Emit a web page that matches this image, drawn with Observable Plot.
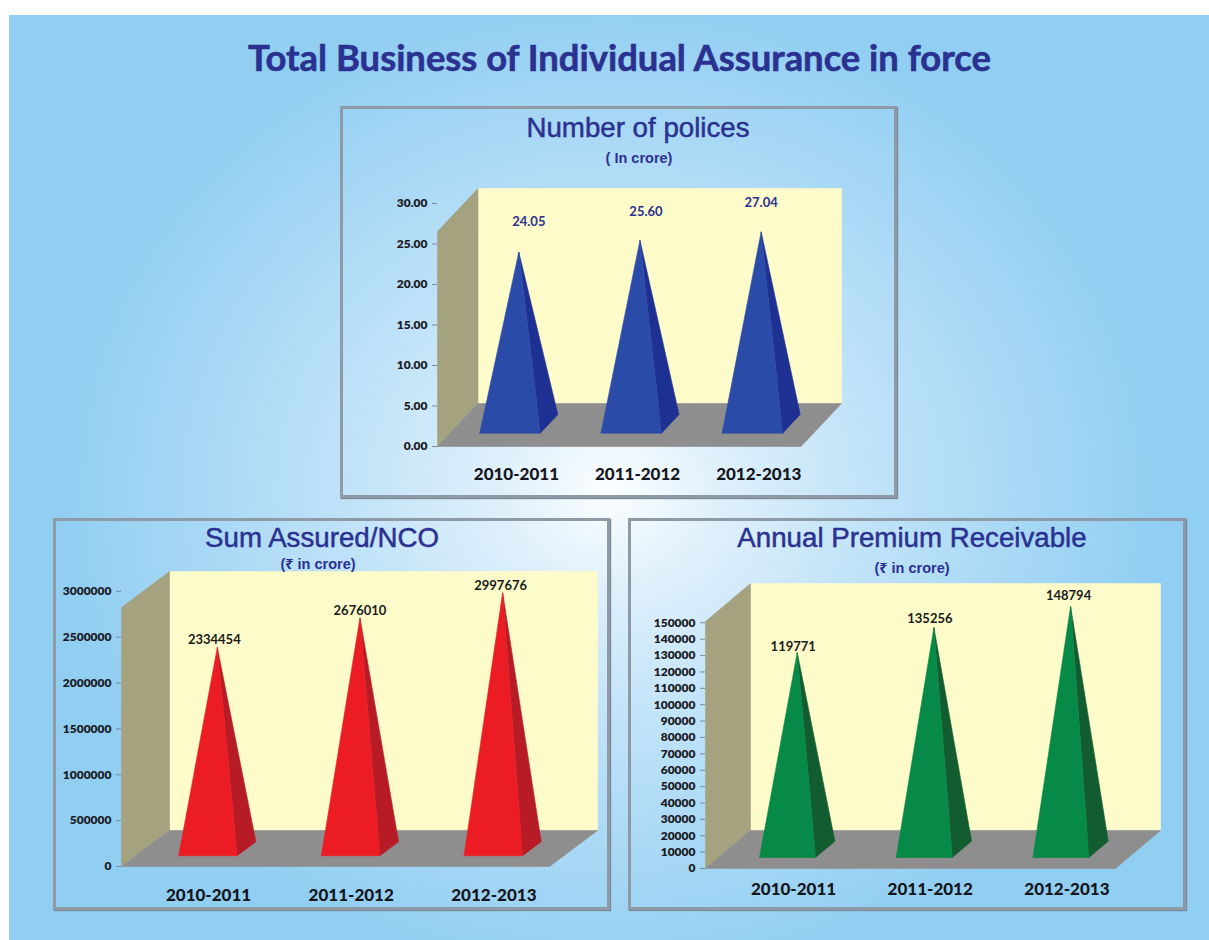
<!DOCTYPE html>
<html>
<head>
<meta charset="utf-8">
<script src="https://cdn.jsdelivr.net/npm/d3@7"></script>
<script src="https://cdn.jsdelivr.net/npm/@observablehq/plot@0.6"></script>
<style>
html,body{margin:0;padding:0;background:#fff;width:1209px;height:940px;overflow:hidden;font-family:Lato,"Noto Sans","DejaVu Sans",sans-serif}
#bg{position:absolute;left:9px;top:15px;width:1200px;height:925px;background:radial-gradient(ellipse 560px 500px at 601px 475px,#fbfeff 0,#dff0fb 110px,#bfe2f8 270px,#a8d8f5 410px,#90cef2 100%)}
#title{position:absolute;left:0;top:35px;width:1239px;text-align:center;font:700 36.4px Lato,sans-serif;color:#2b3191;-webkit-text-stroke:.6px #2b3191}
.frame{position:absolute;box-sizing:border-box;border:3px solid #8e9aa6;box-shadow:1px 1px 1px #7a8a96}
.ptitle{position:absolute;font:400 27.7px "Liberation Sans",Arial,sans-serif;color:#2b3191;text-align:center;transform:translateX(-50%);white-space:nowrap;-webkit-text-stroke:.5px #2b3191}
.psub{position:absolute;font:700 14.5px "Liberation Sans","Noto Sans","DejaVu Sans",sans-serif;color:#2b3191;text-align:center;transform:translateX(-50%);white-space:nowrap}
svg{position:absolute}
svg text{-webkit-text-stroke:.25px currentColor}
</style>
</head>
<body>
<div id="bg"></div>
<div id="title">Total Business of Individual Assurance in force</div>
<div id="root"></div>
<script>
const categories = ["2010-2011", "2011-2012", "2012-2013"];

const policiesLabels = [24.05, 25.60, 27.04];
const policiesApex = [24.0, 25.45, 26.5];
const policiesTicks = [0, 5, 10, 15, 20, 25, 30];

const sumAssuredLabels = [2334454, 2676010, 2997676];
const sumAssuredApex = [2388000, 2711000, 2984000];
const sumAssuredTicks = [0, 500000, 1000000, 1500000, 2000000, 2500000, 3000000];

const premiumLabels = [119771, 135256, 148794];
const premiumApex = [131900, 147100, 160000];
const premiumTicks = [0, 10000, 20000, 30000, 40000, 50000, 60000, 70000, 80000, 90000, 100000, 110000, 120000, 130000, 140000, 150000];

const charts = [
  {title: "Number of polices", sub: "( In crore)", titleX: 638, titleY: 112, subX: 639, subY: 150,
   box: [340, 106, 557, 392], margins: [82, 56, 52, 97],
   yTop: 31.85, depthX: 0.334, depthY: 5.31, center: 0.495, width: 0.5, df: 0.31, db: 0.744,
   labels: policiesLabels, apex: policiesApex, ticks: policiesTicks, fmt: d => d.toFixed(2), labelFmt: d => d.toFixed(2),
   labelColor: "#2b3191", labelDx: [10, 6, 0], labelDy: [-30, -29, -29],
   catOffset: 0.651, catPad: 21,
   front: "#2a4ca8", side: "#1f3093"},
  {title: "Sum Assured/NCO", sub: "(₹ in crore)", titleX: 322, titleY: 522, subX: 318, subY: 553,
   box: [53, 518, 557, 392], margins: [53, 13, 44, 68],
   yTop: 3216000, depthX: 0.3364, depthY: 392000, center: 0.505, width: 0.41, df: 0.3, db: 0.69,
   labels: sumAssuredLabels, apex: sumAssuredApex, ticks: sumAssuredTicks, fmt: d => String(d), labelFmt: d => String(d),
   labelColor: "#1a1a1a", labelDx: [-3, 0, -2], labelDy: [-8, -7, -7],
   catOffset: 0.61, catPad: 22,
   front: "#ec1c24", side: "#b71c26"},
  {title: "Annual Premium Receivable", sub: "(₹ in crore)", titleX: 912, titleY: 522, subX: 912, subY: 557,
   box: [628, 518, 558, 392], margins: [65, 26, 42, 77],
   yTop: 174000, depthX: 0.329, depthY: 23200, center: 0.505, width: 0.41, df: 0.29, db: 0.72,
   labels: premiumLabels, apex: premiumApex, ticks: premiumTicks, fmt: d => String(d), labelFmt: d => String(d),
   labelColor: "#1a1a1a", labelDx: [-4, -4, -2], labelDy: [-6, -9, -11],
   catOffset: 0.644, catPad: 14,
   front: "#078a47", side: "#135c30"}
];

const root = document.getElementById("root");

function drawChart(c) {
  const H = c.yTop - c.depthY;
  const P = (x, v, d) => ({x: x + d * c.depthX, y: v + d * c.depthY});
  const poly = (pts, color) => Plot.line([...pts, pts[0]], {x: "x", y: "y", fill: color, stroke: color, strokeWidth: 0.6, curve: "linear"});

  const marks = [
    poly([P(0, 0, 1), P(3, 0, 1), P(3, H, 1), P(0, H, 1)], "#fdfbc9"),
    poly([P(0, 0, 0), P(0, 0, 1), P(0, H, 1), P(0, H, 0)], "#a4a27f"),
    poly([P(0, 0, 0), P(3, 0, 0), P(3, 0, 1), P(0, 0, 1)], "#8e8e8e")
  ];
  categories.forEach((cat, i) => {
    const cx = i + c.center;
    const tip = {x: cx + (c.df + c.db) / 2 * c.depthX, y: c.apex[i]};
    const fl = P(cx - c.width / 2, 0, c.df);
    const fr = P(cx + c.width / 2, 0, c.df);
    const br = P(cx + c.width / 2, 0, c.db);
    marks.push(poly([fr, br, tip], c.side));
    marks.push(poly([fl, fr, tip], c.front));
    marks.push(Plot.text([{...tip, label: c.labelFmt(c.labels[i])}], {
      x: "x", y: "y", text: "label", dx: c.labelDx[i], dy: c.labelDy[i],
      fill: c.labelColor, fontSize: 13, fontWeight: 700, lineAnchor: "middle"
    }));
  });

  marks.push(Plot.axisY({ticks: c.ticks, tickFormat: c.fmt, tickSize: 5, tickPadding: 5, stroke: "#7d8a96", fill: "#1c1c26", fontSize: 12, fontWeight: 800, label: null}));
  marks.push(Plot.axisX({
    ticks: categories.map((_, i) => i + c.catOffset),
    tickFormat: d => categories[Math.floor(d)],
    tickSize: 0, tickPadding: c.catPad, fill: "#15151c", fontSize: 17, fontWeight: 900, label: null
  }));

  const [left, top, w, h] = c.box;
  const [mt, mr, mb, ml] = c.margins;
  const svg = Plot.plot({
    width: w, height: h, marginTop: mt, marginRight: mr, marginBottom: mb, marginLeft: ml,
    x: {domain: [0, 3 + c.depthX], axis: null},
    y: {domain: [0, c.yTop], axis: null},
    style: {position: "absolute", left: left + "px", top: top + "px", background: "transparent", fontFamily: "Lato, sans-serif", overflow: "visible"},
    marks
  });
  root.appendChild(svg);

  const frame = document.createElement("div");
  frame.className = "frame";
  frame.style.cssText = `left:${left}px;top:${top}px;width:${w}px;height:${h}px`;
  root.appendChild(frame);

  const t = document.createElement("div");
  t.className = "ptitle"; t.textContent = c.title;
  t.style.left = c.titleX + "px"; t.style.top = c.titleY + "px";
  root.appendChild(t);
  const s = document.createElement("div");
  s.className = "psub"; s.textContent = c.sub;
  s.style.left = c.subX + "px"; s.style.top = c.subY + "px";
  root.appendChild(s);
}
charts.forEach(drawChart);
</script>
</body>
</html>
